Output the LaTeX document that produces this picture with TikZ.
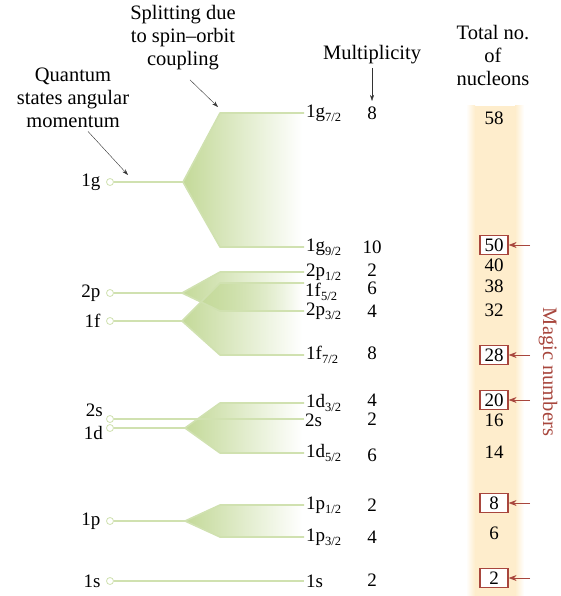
\documentclass[tikz,border=0pt]{standalone}
\usepackage{fontspec}
\setmainfont{Liberation Serif}
\usepackage{tikz}
\usetikzlibrary{arrows.meta,fadings}
\usepackage{xcolor}
\definecolor{levgreen}{HTML}{D0E1B0}
\definecolor{fangreen}{HTML}{C3D998}
\definecolor{bandorange}{HTML}{FEEDCC}
\definecolor{magicred}{HTML}{A8463D}
\tikzfading[name=fanfade, left color=transparent!0, right color=transparent!100]
\newcommand{\orbit}[2]{#1\raisebox{-4pt}{\fontsize{12.5}{12.5}\selectfont #2/2}}

\begin{document}
\begin{tikzpicture}[x=1pt, y=-1pt, font=\fontsize{19}{23}\selectfont,
  lev/.style={levgreen, line width=1.6pt, line join=round},
  fan/.style={fangreen, path fading=fanfade},
  orb/.style={circle, draw=levgreen, thick, fill=white, inner sep=0pt, minimum size=7pt},
  sublev/.style={anchor=west, inner sep=2pt},
  head/.style={font=\fontsize{20.5}{23}\selectfont, align=center},
  num/.style={inner sep=0pt},
  magicbox/.style={draw=magicred, line width=1.2pt, fill=white, minimum width=28pt, minimum height=19pt, inner sep=1pt},
  pointer/.style={-{Stealth[length=6pt,width=4pt]}, black!80, thin},
  magic/.style={-{Stealth[length=8pt,width=6pt]}, magicred, line width=0.8pt}]
\useasboundingbox (0,0) rectangle (561,596);
% nucleon band
\fill[bandorange] (475,106) rectangle (515,596);
\shade[left color=white, right color=bandorange] (466,106) rectangle (475,596);
\shade[left color=bandorange, right color=white] (515,106) rectangle (524,596);
% orbitals on the left
\foreach \name/\y in {1g/182, 2p/293, 1f/321, 2s/419, 1d/428, 1p/521, 1s/581}
    \node[orb] (c\name) at (110,\y) {};
\foreach \name/\y in {1g/182, 2p/293, 1f/321, 1p/521, 1s/581}
    \node[anchor=east] (n\name) at (104,\y) {\name};
\node[anchor=east, num] (n2s) at (103,410) {2s};
\node[anchor=east, num] (n1d) at (103,433) {1d};
% split levels
\foreach \name/\lab/\y in {g7/\orbit{1g}{7}/113, g9/\orbit{1g}{9}/247, pa/\orbit{2p}{1}/272,
    pb/\orbit{2p}{3}/311, fb/\orbit{1f}{7}/355, da/\orbit{1d}{3}/403,
    db/\orbit{1d}{5}/453, pc/\orbit{1p}{1}/505, pd/\orbit{1p}{3}/537, s1/1s/581}
    \node[sublev] (\name) at (304,\y) {\lab};
\node[anchor=north west, inner sep=0pt] (fa) at (305,283) {\orbit{1f}{5}};
\node[anchor=north west, inner sep=0pt] (s2) at (305,414) {2s};
\coordinate (fae) at (304,283);
\coordinate (s2e) at (304,419);
\coordinate (b1g) at (183,182);
\coordinate (b2p) at (182,293);
\coordinate (b1f) at (182,321);
\coordinate (b1d) at (185,428);
\coordinate (b1p) at (185,521);
\fill[fan] (b1g) -- (220,113) -- (302,113) -- (302,247) -- (220,247) -- cycle;
\fill[fan] (b2p) -- (220,272) -- (302,272) -- (302,311) -- (220,311) -- cycle;
\fill[fan] (b1f) -- (220,283) -- (302,283) -- (302,355) -- (220,355) -- cycle;
\fill[fan] (b1d) -- (220,403) -- (302,403) -- (302,453) -- (220,453) -- cycle;
\fill[fan] (b1p) -- (220,505) -- (302,505) -- (302,537) -- (220,537) -- cycle;
\draw[lev] (c1g) -- (b1g) -- (220,113) -- (g7.west);
\draw[lev] (b1g) -- (220,247) -- (g9.west);
\draw[lev] (c2p) -- (b2p) -- (220,272) -- (pa.west);
\draw[lev] (b2p) -- (220,311) -- (pb.west);
\draw[lev] (c1f) -- (b1f) -- (220,283) -- (fae);
\draw[lev] (b1f) -- (220,355) -- (fb.west);
\draw[lev] (c2s) -- (s2e);
\draw[lev] (c1d) -- (b1d) -- (220,403) -- (da.west);
\draw[lev] (b1d) -- (220,453) -- (db.west);
\draw[lev] (c1p) -- (b1p) -- (220,505) -- (pc.west);
\draw[lev] (b1p) -- (220,537) -- (pd.west);
\draw[lev] (c1s) -- (s1.west);
% headings
\node[head] (split) at (183,38) {Splitting due\\to spin--orbit\\coupling};
\node[head] (qsam) at (73,98) {Quantum\\states angular\\momentum};
\node[head] (mult) at (372,55) {Multiplicity};
\node[head] (total) at (493,55) {Total no.\\of\\nucleons};
\node[head, magicred, rotate=-90] (magic) at (548,372) {Magic numbers};
\coordinate (qhead) at (128,175);
\coordinate (shead) at (218,107);
\coordinate (mhead) at (372,101);
\draw[pointer] ([xshift=15pt]qsam.south) -- (qhead);
\draw[pointer] ([shift={(7,6)}]split.south) -- (shead);
\draw[pointer] (mult.south) -- (mhead);
% multiplicity
\foreach \n/\y in {8/113, 10/247, 2/270, 6/288, 4/311, 8/353, 4/400, 2/419, 6/455, 2/505, 4/537, 2/580}
    \node[num] (k\y) at (372,\y) {\n};
% total number of nucleons
\foreach \n/\y in {58/118, 40/265, 38/286, 32/310, 16/420, 14/452, 6/533}
    \node[num] (t\n) at (494,\y) {\n};
\foreach \n/\y in {50/245, 28/355, 20/400, 8/503, 2/578}{
    \node[magicbox] (m\n) at (494,\y) {\n};
    \coordinate (a\n) at (530,\y);
    \draw[magic] (a\n) -- (m\n.east);
}
\end{tikzpicture}
\end{document}
